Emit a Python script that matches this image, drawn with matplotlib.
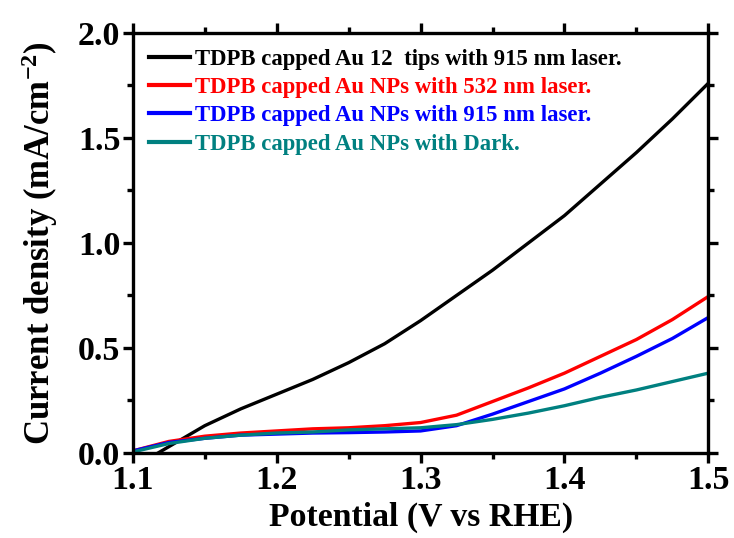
import matplotlib
matplotlib.use("Agg")
import matplotlib.pyplot as plt
from matplotlib.ticker import MultipleLocator

plt.rcParams["font.family"] = ["Liberation Serif", "DejaVu Serif"]
plt.rcParams["font.weight"] = "bold"
plt.rcParams["mathtext.fontset"] = "custom"
plt.rcParams["mathtext.rm"] = "Liberation Serif:bold"
plt.rcParams["mathtext.default"] = "rm"

# ---- LSV data (potential in V vs RHE, current density in mA/cm2) ----
potential = [1.100, 1.125, 1.150, 1.175, 1.200, 1.225, 1.250, 1.275, 1.300,
             1.325, 1.350, 1.375, 1.400, 1.425, 1.450, 1.475, 1.500]

potential_tips = [1.115, 1.125, 1.150, 1.175, 1.200, 1.225, 1.250, 1.275, 1.300,
                  1.325, 1.350, 1.375, 1.400, 1.425, 1.450, 1.475, 1.500]
tips_915 = [-0.01, 0.03, 0.13, 0.21, 0.28, 0.35, 0.43, 0.52, 0.63,
            0.75, 0.87, 1.00, 1.13, 1.28, 1.43, 1.59, 1.76]

nps_532 = [0.010, 0.055, 0.080, 0.095, 0.105, 0.115, 0.120, 0.130, 0.145,
           0.180, 0.245, 0.310, 0.380, 0.460, 0.540, 0.635, 0.745]
nps_915 = [0.010, 0.050, 0.070, 0.085, 0.090, 0.095, 0.097, 0.100, 0.105,
           0.130, 0.185, 0.245, 0.305, 0.380, 0.460, 0.545, 0.645]
nps_dark = [0.005, 0.045, 0.070, 0.085, 0.095, 0.100, 0.110, 0.115, 0.120,
            0.135, 0.160, 0.190, 0.225, 0.265, 0.300, 0.340, 0.380]

labels = [
    "TDPB capped Au 12  tips with 915 nm laser.",
    "TDPB capped Au NPs with 532 nm laser.",
    "TDPB capped Au NPs with 915 nm laser.",
    "TDPB capped Au NPs with Dark.",
]
colors = ["#000000", "#ff0000", "#0000ff", "#008080"]

fig = plt.figure(figsize=(7.34, 5.38), dpi=100)
ax = fig.add_axes([0.181, 0.158, 0.784, 0.781])

ax.plot(potential_tips, tips_915, color=colors[0], lw=2.4, label=labels[0])
ax.plot(potential, nps_532, color=colors[1], lw=2.4, label=labels[1])
ax.plot(potential, nps_915, color=colors[2], lw=2.4, label=labels[2])
ax.plot(potential, nps_dark, color=colors[3], lw=2.4, label=labels[3])

ax.set_xlim(1.1, 1.5)
ax.set_ylim(0.0, 2.0)
ax.xaxis.set_major_locator(MultipleLocator(0.1))
ax.xaxis.set_minor_locator(MultipleLocator(0.05))
ax.yaxis.set_major_locator(MultipleLocator(0.5))
ax.yaxis.set_minor_locator(MultipleLocator(0.25))
ax.xaxis.set_major_formatter(plt.FormatStrFormatter("%.1f"))
ax.yaxis.set_major_formatter(plt.FormatStrFormatter("%.1f"))

for side in ax.spines.values():
    side.set_linewidth(2.4)
ax.tick_params(which="both", direction="out", width=2.4, top=True, right=True,
               labelsize=24.5, pad=2)
ax.tick_params(which="major", length=7)
ax.tick_params(which="minor", length=4)
for lbl in ax.get_xticklabels() + ax.get_yticklabels():
    lbl.set_fontweight("bold")

ax.set_xlabel("Potential (V vs RHE)", fontsize=24.3, fontweight="bold", labelpad=4)
ax.set_ylabel("Current density (mA/cm$^{-2}$)", fontsize=25, fontweight="bold",
              labelpad=13)

leg = ax.legend(loc="upper left", frameon=False, fontsize=16.4,
                handlelength=1.8, handletextpad=0.25, labelspacing=0.32,
                borderaxespad=0.3)
for text, c in zip(leg.get_texts(), colors):
    text.set_color(c)
    text.set_fontweight("bold")
for line in leg.get_lines():
    line.set_linewidth(3)

fig.savefig("out.png", dpi=100)
